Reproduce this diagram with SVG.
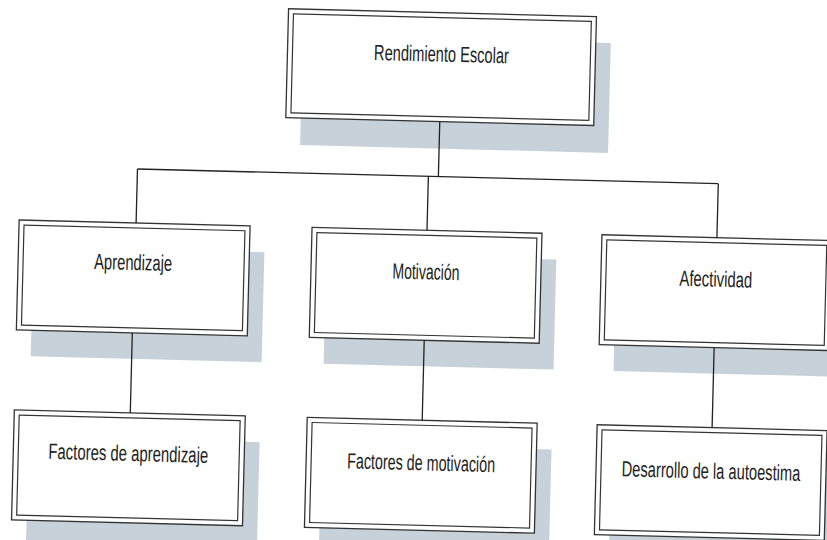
<svg xmlns="http://www.w3.org/2000/svg" width="827" height="540" viewBox="0 0 827 540">
<defs>
<style>
.shadow{fill:#c7d1d9;stroke:none}
.outer{fill:#ffffff;stroke:#333333;stroke-width:1.3}
.inner{fill:none;stroke:#333333;stroke-width:1.2}
.lbl{font-family:"Liberation Sans",Arial,sans-serif;font-size:22px;fill:#222222;text-anchor:middle}
.conn{stroke:#222222;stroke-width:1.3;fill:none}
</style>
</defs>
<rect x="0" y="0" width="827" height="540" fill="#ffffff"/>
<g transform="rotate(1.45 413 270)">
<g id="node-rendimiento">
<rect class="shadow" x="297" y="38" width="308" height="110"/>
<rect class="outer" x="282" y="12" width="308" height="109"/>
<rect class="inner" x="287" y="17" width="298" height="99"/>
<text class="lbl" transform="translate(436 61) scale(0.665 1)">Rendimiento Escolar</text>
</g>
<g id="node-aprendizaje">
<rect class="shadow" x="33" y="256" width="231" height="110"/>
<rect class="outer" x="18" y="230" width="231" height="110"/>
<rect class="inner" x="23" y="235" width="221" height="100"/>
<text class="lbl" transform="translate(133 277) scale(0.671 1)">Aprendizaje</text>
</g>
<g id="node-motivacion">
<rect class="shadow" x="326" y="256" width="230" height="110"/>
<rect class="outer" x="311" y="230" width="230" height="110"/>
<rect class="inner" x="316" y="235" width="220" height="100"/>
<text class="lbl" transform="translate(426 279) scale(0.64 1)">Motivación</text>
</g>
<g id="node-afectividad">
<rect class="shadow" x="616" y="256" width="230" height="110"/>
<rect class="outer" x="601" y="230" width="230" height="110"/>
<rect class="inner" x="606" y="235" width="220" height="100"/>
<text class="lbl" transform="translate(716 279) scale(0.678 1)">Afectividad</text>
</g>
<g id="node-factores-aprendizaje">
<rect class="shadow" x="33" y="446" width="231" height="110"/>
<rect class="outer" x="18" y="420" width="231" height="110"/>
<rect class="inner" x="23" y="425" width="221" height="100"/>
<text class="lbl" transform="translate(133 468) scale(0.678 1)">Factores de aprendizaje</text>
</g>
<g id="node-factores-motivacion">
<rect class="shadow" x="326" y="446" width="230" height="110"/>
<rect class="outer" x="311" y="420" width="230" height="110"/>
<rect class="inner" x="316" y="425" width="220" height="100"/>
<text class="lbl" transform="translate(426 470) scale(0.651 1)">Factores de motivación</text>
</g>
<g id="node-autoestima">
<rect class="shadow" x="616" y="446" width="230" height="110"/>
<rect class="outer" x="601" y="420" width="230" height="110"/>
<rect class="inner" x="606" y="425" width="220" height="100"/>
<text class="lbl" transform="translate(716 471) scale(0.668 1)">Desarrollo de la autoestima</text>
</g>
<g id="connectors">
<line class="conn" x1="436" y1="121" x2="436" y2="176"/>
<line class="conn" x1="135" y1="176" x2="716" y2="176"/>
<line class="conn" x1="135" y1="176" x2="135" y2="230"/>
<line class="conn" x1="426" y1="176" x2="426" y2="230"/>
<line class="conn" x1="716" y1="176" x2="716" y2="230"/>
<line class="conn" x1="134" y1="340" x2="134" y2="420"/>
<line class="conn" x1="426" y1="340" x2="426" y2="420"/>
<line class="conn" x1="716" y1="340" x2="716" y2="420"/>
</g>
</g>
</svg>
